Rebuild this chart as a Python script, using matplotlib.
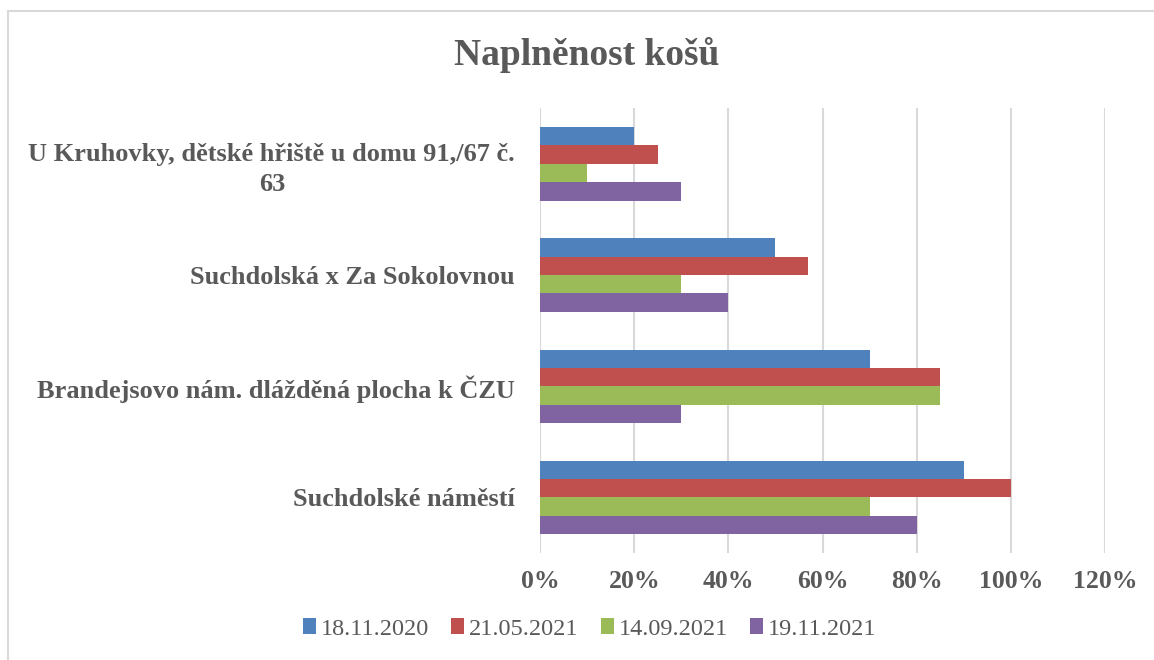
import matplotlib.pyplot as plt
import numpy as np
from matplotlib.patches import Rectangle
from matplotlib.ticker import PercentFormatter

categories = ['Suchdolské náměstí',
              'Brandejsovo nám. dlážděná plocha k ČZU',
              'Suchdolská x Za Sokolovnou',
              'U Kruhovky, dětské hřiště u domu 91,/67 č.\n63']
series = ['18.11.2020', '21.05.2021', '14.09.2021', '19.11.2021']
v_2020_11 = [90, 70, 50, 20]
v_2021_05 = [100, 85, 57, 25]
v_2021_09 = [70, 85, 30, 10]
v_2021_11 = [80, 30, 40, 30]
values = [v_2020_11, v_2021_05, v_2021_09, v_2021_11]
colors = ['#4F81BD', '#C0504D', '#9BBB59', '#8064A2']

plt.rcParams['font.family'] = ['Liberation Serif', 'DejaVu Serif']
txt = '#595959'

fig = plt.figure(figsize=(11.54, 6.60), dpi=100)
fig.patches.append(Rectangle((0.007, -0.01), 1.0, 0.993, transform=fig.transFigure,
                             fill=False, edgecolor='#D9D9D9', linewidth=1.5))
ax = fig.add_axes([0.468, 0.162, 0.4895, 0.674])

y = np.arange(len(categories))
h = 0.165
for i, (name, vals, c) in enumerate(zip(series, values, colors)):
    offset = (1.5 - i) * h
    ax.barh(y + offset, vals, height=h, color=c, label=name, zorder=3)

ax.set_xlim(0, 120)
ax.set_ylim(-0.5, 3.5)
ax.set_xticks(np.arange(0, 121, 20))
ax.xaxis.set_major_formatter(PercentFormatter(decimals=0))
ax.set_yticks(y)
ax.set_yticklabels(categories)
for lbl in ax.get_yticklabels():
    lbl.set_multialignment('center')
    lbl.set_linespacing(1.35)
ax.tick_params(axis='y', length=0, pad=18, labelsize=19, labelcolor=txt)
ax.tick_params(axis='x', length=0, pad=12, labelsize=18.5, labelcolor=txt)
for lbl in ax.get_xticklabels() + ax.get_yticklabels():
    lbl.set_fontweight('bold')
ax.grid(axis='x', color='#D9D9D9', linewidth=1.5, zorder=0)
for s in ax.spines.values():
    s.set_visible(False)

fig.text(0.508, 0.917, 'Naplněnost košů', ha='center', va='center',
         fontsize=27, fontweight='bold', color=txt)

fig.legend(loc='center', bbox_to_anchor=(0.511, 0.047), ncol=4, frameon=False,
           fontsize=17.5, labelcolor=txt, handlelength=0.55, handleheight=0.6,
           handletextpad=0.2, columnspacing=0.9)

fig.savefig('out.png', dpi=100)
